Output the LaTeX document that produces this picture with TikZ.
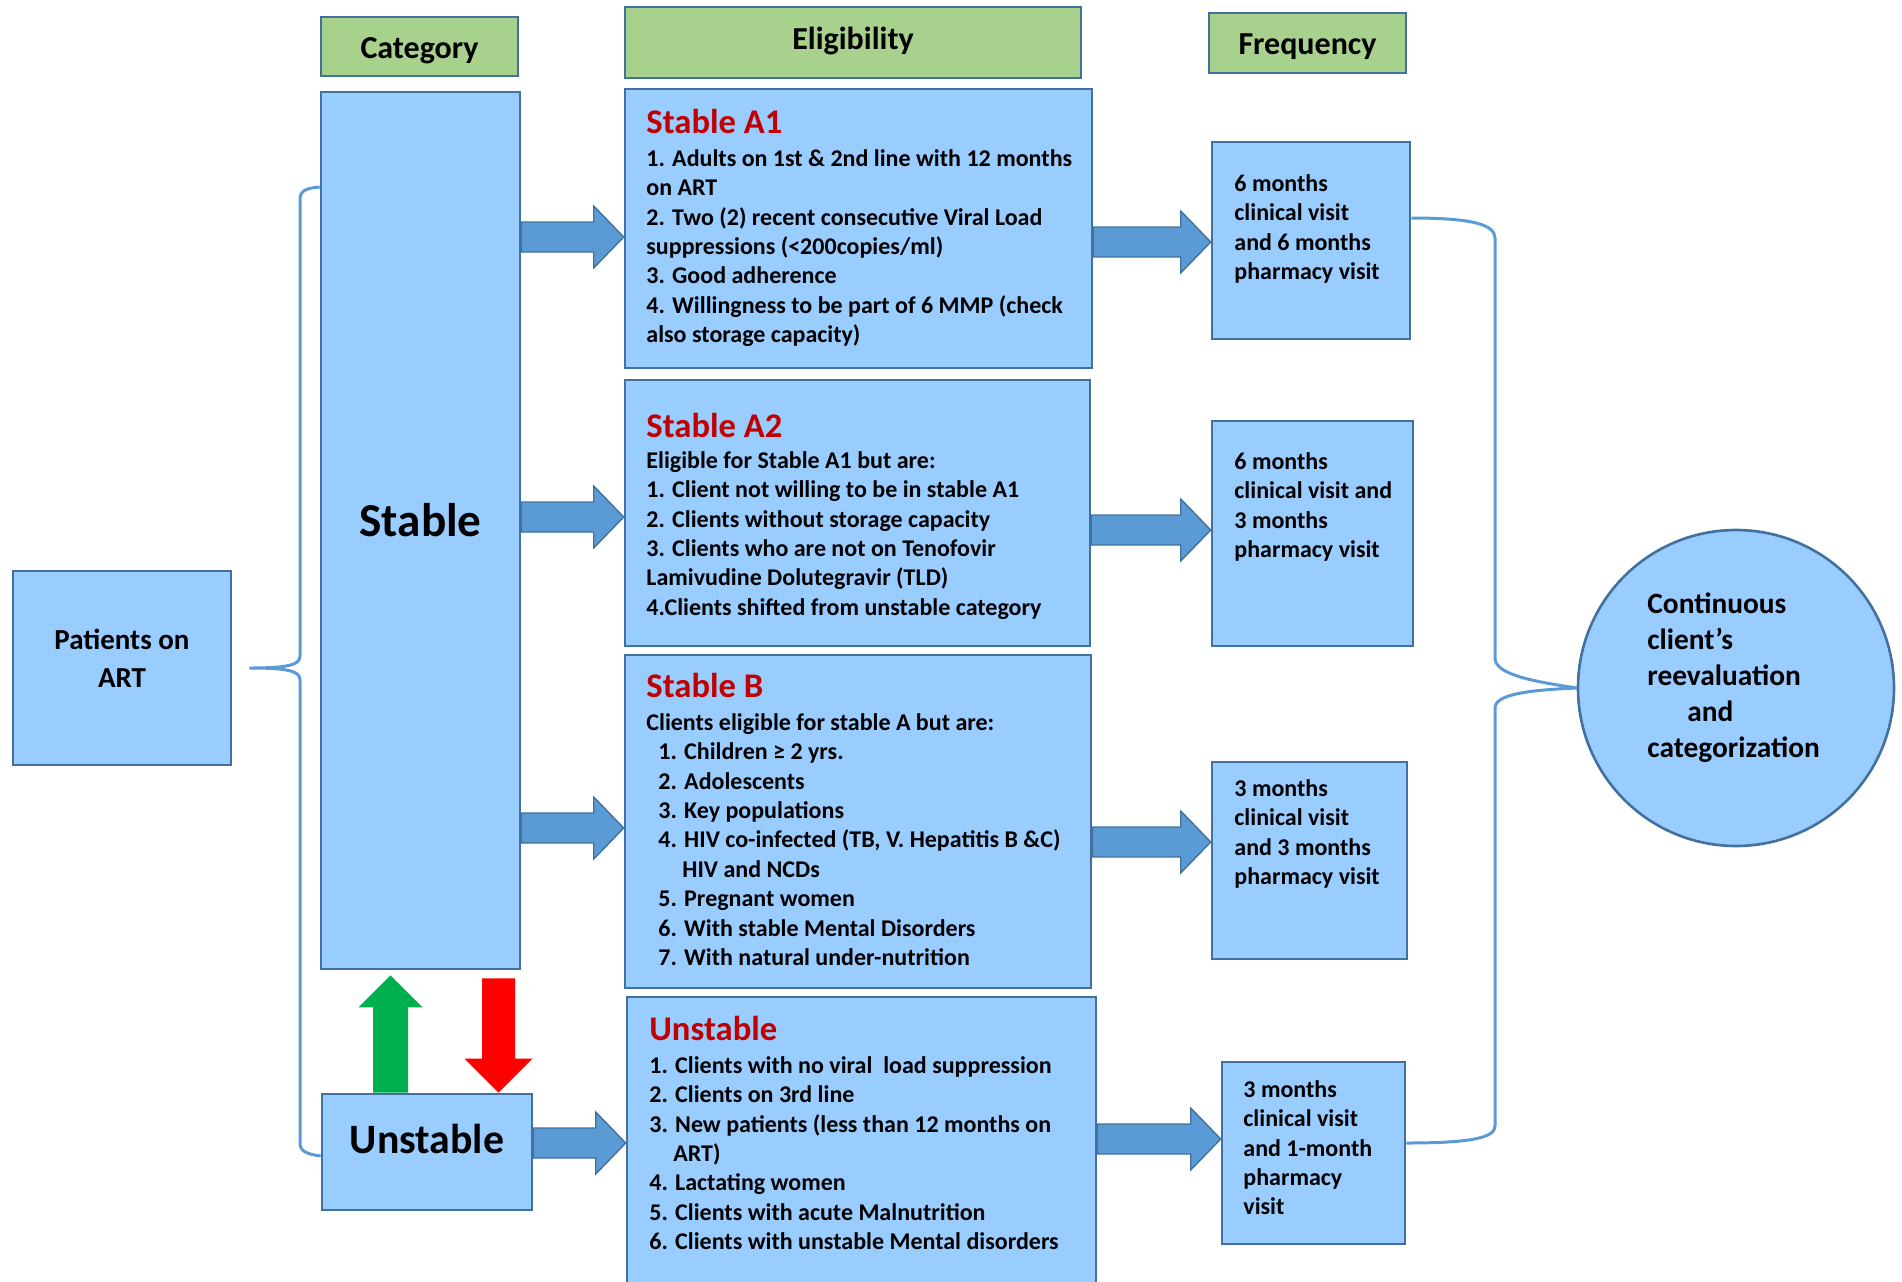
\documentclass[tikz,border=0pt]{standalone}
\usepackage{fontspec}
\setmainfont{Carlito}
\usepackage{tikz}
\usetikzlibrary{calc}
\usetikzlibrary{fit}

\definecolor{boxblue}{RGB}{153,204,255}
\definecolor{edgeblue}{RGB}{65,113,156}
\definecolor{arrowblue}{RGB}{91,155,213}
\definecolor{hdrgreen}{RGB}{169,209,142}
\definecolor{titlered}{RGB}{192,0,0}
\definecolor{upgreen}{RGB}{0,176,80}

\tikzset{
  box/.style={draw=edgeblue, fill=boxblue, line width=1.3pt, inner sep=0pt},
  hdr/.style={draw=edgeblue, fill=hdrgreen, line width=1.3pt, inner sep=0pt,
    text height=10.3pt, text depth=3.2pt,
    font=\fontsize{16}{19}\selectfont\bfseries},
  ttl/.style={font=\fontsize{17.3}{21}\selectfont\bfseries, text=titlered,
    inner sep=0pt, anchor=base west},
  txt/.style={font=\fontsize{12}{14.7}\selectfont\bfseries, align=left,
    inner sep=0pt, anchor=north west},
  barrow/.style={fill=arrowblue, draw=edgeblue, line width=0.7pt},
  brace/.style={draw=arrowblue, line width=1.5pt},
}

% block arrow from #1 to #2 at height #3
\newcommand{\blockarrow}[3]{%
  \path (#1.east |- 0,#3) coordinate (bs) (#2.west |- 0,#3) coordinate (bt);
  \filldraw[barrow] ($(bs)+(0,-15)$) -- ($(bt)+(-30,-15)$) -- ($(bt)+(-30,-31)$)
    -- (bt) -- ($(bt)+(-30,31)$) -- ($(bt)+(-30,15)$) -- ($(bs)+(0,15)$) -- cycle;
}

\begin{document}
\begin{tikzpicture}[x=0.5pt, y=-0.5pt]
  \useasboundingbox (0,0) rectangle (1902,1281);

  \node[hdr, minimum width=98.5pt, minimum height=29.5pt, text height=15pt] (cat) at (419.5,46.5) {Category};
  \node[hdr, minimum width=228pt, minimum height=35.5pt] (elig) at (853,42.5) {Eligibility};
  \node[hdr, minimum width=98.5pt, minimum height=30pt, text height=15pt] (freq) at (1307.5,43) {Frequency};

  \node[box, fit={(13,571) (231,765)}] (pat) {};
  \node[box, fit={(321,92) (520,969)}] (stable) {};
  \node[box, fit={(322,1094) (532,1210)}] (unst) {};

  \node[box, fit={(625,89) (1092,368)}] (a1) {};
  \node[box, fit={(625,380) (1090,646)}] (a2) {};
  \node[box, fit={(625,655) (1091,988)}] (sb) {};
  \node[box, fit={(627,997) (1096,1300)}] (ue) {};

  \node[box, fit={(1212,142) (1410,339)}] (f1) {};
  \node[box, fit={(1212,421) (1413,646)}] (f2) {};
  \node[box, fit={(1212,762) (1407,959)}] (f3) {};
  \node[box, fit={(1222,1062) (1405,1244)}] (f4) {};

  \node[box, circle, minimum size=158pt] (reeval) at (1736,688) {};

  \node[font=\fontsize{14.5}{19}\selectfont\bfseries, align=center, inner sep=0pt,
    anchor=north] (tpat) at (122,622.4) {\strut Patients on\\ART};
  \node[font=\fontsize{23.6}{28}\selectfont\bfseries, inner sep=0pt, anchor=base]
    (tstable) at (420.5,536) {Stable};
  \node[font=\fontsize{20.9}{25}\selectfont\bfseries, inner sep=0pt, anchor=base]
    (tunst) at (427,1153) {Unstable};

  \node[ttl] (ta1) at (646,133) {Stable A1};
  \node[txt] (la1) at (646,145.4) {\strut 1. Adults on 1st \& 2nd line with 12 months\\
    on ART\\
    2. Two (2) recent consecutive Viral Load\\
    suppressions (<200copies/ml)\\
    3. Good adherence\\
    4. Willingness to be part of 6 MMP (check\\
    also storage capacity)};

  \node[ttl] (ta2) at (646,437) {Stable A2};
  \node[txt] (la2) at (646,447.4) {\strut Eligible for Stable A1 but are:\\
    1. Client not willing to be in stable A1\\
    2. Clients without storage capacity\\
    3. Clients who are not on Tenofovir\\
    Lamivudine Dolutegravir (TLD)\\
    4.Clients shifted from unstable category};

  \node[ttl] (tsb) at (646,697) {Stable B};
  \node[txt] (lsb) at (646,709.4) {\strut Clients eligible for stable A but are:\\
    \hspace*{6pt}1. Children ≥ 2 yrs.\\
    \hspace*{6pt}2. Adolescents\\
    \hspace*{6pt}3. Key populations\\
    \hspace*{6pt}4. HIV co-infected (TB, V. Hepatitis B \&C)\\
    \hspace*{18pt}HIV and NCDs\\
    \hspace*{6pt}5. Pregnant women\\
    \hspace*{6pt}6. With stable Mental Disorders\\
    \hspace*{6pt}7. With natural under-nutrition};

  \node[ttl] (tue) at (649,1040) {Unstable};
  \node[txt] (lue) at (649,1052.4) {\strut 1. Clients with no viral\ \ load suppression\\
    2. Clients on 3rd line\\
    3. New patients (less than 12 months on\\
    \hspace*{12pt}ART)\\
    4. Lactating women\\
    5. Clients with acute Malnutrition\\
    6. Clients with unstable Mental disorders};

  \node[txt] (lf1) at (1234,170.4) {\strut 6 months\\ clinical visit\\ and 6 months\\ pharmacy visit};
  \node[txt] (lf2) at (1234,448.4) {\strut 6 months\\ clinical visit and\\ 3 months\\ pharmacy visit};
  \node[txt] (lf3) at (1234,775.4) {\strut 3 months\\ clinical visit\\ and 3 months\\ pharmacy visit};
  \node[txt] (lf4) at (1243,1076.4) {\strut 3 months\\ clinical visit\\ and 1-month\\ pharmacy\\ visit};

  \node[font=\fontsize{14.7}{18}\selectfont\bfseries, align=left, inner sep=0pt,
    anchor=north west] (treeval) at (1647,587.8) {\strut Continuous\\
    client’s\\
    reevaluation\\
    \hspace*{20pt}and\\
    categorization};

  \blockarrow{stable}{a1}{237}
  \blockarrow{stable}{a2}{517}
  \blockarrow{stable}{sb}{828}
  \blockarrow{unst}{ue}{1143}
  \blockarrow{a1}{f1}{242}
  \blockarrow{a2}{f2}{530}
  \blockarrow{sb}{f3}{842}
  \blockarrow{ue}{f4}{1139}

  \coordinate (gtip) at ($(stable.south -| 390.5,0)+(0,5)$);
  \coordinate (gfoot) at (unst.north -| 390.5,0);
  \fill[upgreen] ($(gfoot)+(-17.5,0)$) -- ($(gtip)+(-17.5,32)$) -- ($(gtip)+(-32,32)$)
    -- (gtip) -- ($(gtip)+(32,32)$) -- ($(gtip)+(17.5,32)$) -- ($(gfoot)+(17.5,0)$) -- cycle;
  \coordinate (rtop) at ($(stable.south -| 498.5,0)+(0,8)$);
  \coordinate (rtip) at (unst.north -| 498.5,0);
  \fill[red] ($(rtop)+(-16.5,0)$) -- ($(rtip)+(-16.5,-34)$) -- ($(rtip)+(-34,-34)$)
    -- (rtip) -- ($(rtip)+(34,-34)$) -- ($(rtip)+(16.5,-34)$) -- ($(rtop)+(16.5,0)$) -- cycle;

  \draw[brace] (stable.west |- 0,187) .. controls (306,188) and (300,191) .. (300,199)
    -- (300,656) .. controls (300,665) and (288,668) .. ($(pat.east)+(17,0)$)
    .. controls (288,668) and (300,671) .. (300,680)
    -- (300,1143) .. controls (300,1151) and (306,1154) .. (unst.west |- 0,1156);
  \draw[brace] (f1.east |- 0,218) .. controls (1470,218) and (1495,224) .. (1495,238)
    -- (1495,658) .. controls (1495,674) and (1530,681) .. (reeval.west)
    .. controls (1530,690) and (1495,694) .. (1495,708)
    -- (1495,1126) .. controls (1495,1138) and (1470,1143) .. (f4.east |- 0,1143);
\end{tikzpicture}
\end{document}
